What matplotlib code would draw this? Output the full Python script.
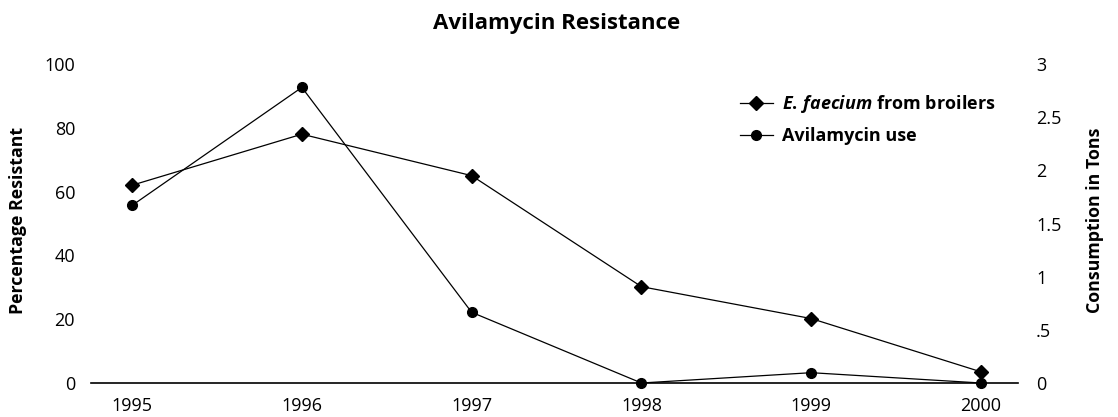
import matplotlib
matplotlib.use("Agg")
import matplotlib.pyplot as plt

FONT = 'Open Sans'
plt.rcParams['font.family'] = [FONT, 'DejaVu Sans']
plt.rcParams['mathtext.fontset'] = 'custom'
plt.rcParams['mathtext.rm'] = FONT + ':bold'
plt.rcParams['mathtext.bf'] = FONT + ':bold'
plt.rcParams['mathtext.it'] = FONT + ':italic:bold'
plt.rcParams['mathtext.bfit'] = FONT + ':italic:bold'

years = [1995, 1996, 1997, 1998, 1999, 2000]
efaecium_pct = [62.0, 78.0, 65.0, 30.2, 20.2, 3.5]
avilamycin_tons = [1.67, 2.78, 0.665, 0.0, 0.097, 0.0]
left_ticks = [0, 20, 40, 60, 80, 100]
right_ticks = [0, 0.5, 1, 1.5, 2, 2.5, 3]
right_tick_labels = ['0', '.5', '1', '1.5', '2', '2.5', '3']

fig = plt.figure(figsize=(11.18, 4.17), dpi=100)
ax = fig.add_axes([91/1118, 34/417, 927/1118, 319/417])
ax2 = ax.twinx()

l1, = ax.plot(years, efaecium_pct, color='black', lw=0.9, marker='D', ms=7,
              label=r'$\mathit{E.\,faecium}$ from broilers', zorder=3)
l2, = ax2.plot(years, avilamycin_tons, color='black', lw=0.9, marker='o', ms=7,
               label='Avilamycin use', zorder=3, clip_on=False)

ax.set_xlim(1995 - 0.242, 2000 + 0.218)
ax.set_ylim(0, 100)
ax2.set_ylim(0, 3)
ax.set_xticks(years)
ax.set_xticklabels([str(y) for y in years])
ax.set_yticks(left_ticks)
ax2.set_yticks(right_ticks)
ax2.set_yticklabels(right_tick_labels)

for a in (ax, ax2):
    for s in ('top', 'left', 'right', 'bottom'):
        a.spines[s].set_visible(False)
ax.spines['bottom'].set_visible(True)
ax.spines['bottom'].set_linewidth(1.2)

ax.tick_params(axis='x', length=0, pad=10, labelsize=13)
ax.tick_params(axis='y', length=0, pad=11.5, labelsize=13)
ax2.tick_params(axis='y', length=0, pad=13, labelsize=13)

ax.set_ylabel('Percentage Resistant', fontsize=12.8, fontweight='bold')
ax2.set_ylabel('Consumption in Tons', fontsize=12.8, fontweight='bold', rotation=90)
ax.yaxis.set_label_coords((27 - 91)/927, 0.51)
ax2.yaxis.set_label_coords((1086 - 91)/927, 0.51)

fig.text(557/1118, 1 - 23/417, 'Avilamycin Resistance', ha='center', va='center',
         fontsize=16, fontweight='bold')

leg = ax2.legend(handles=[l1, l2], loc='upper left',
                 bbox_to_anchor=(740/1118, 1 - 93/417), bbox_transform=fig.transFigure,
                 frameon=False, borderpad=0, borderaxespad=0, handlelength=1.8,
                 handletextpad=0.53, labelspacing=0.66,
                 prop={'weight': 'bold', 'size': 13})

fig.savefig('out.png', dpi=100)
